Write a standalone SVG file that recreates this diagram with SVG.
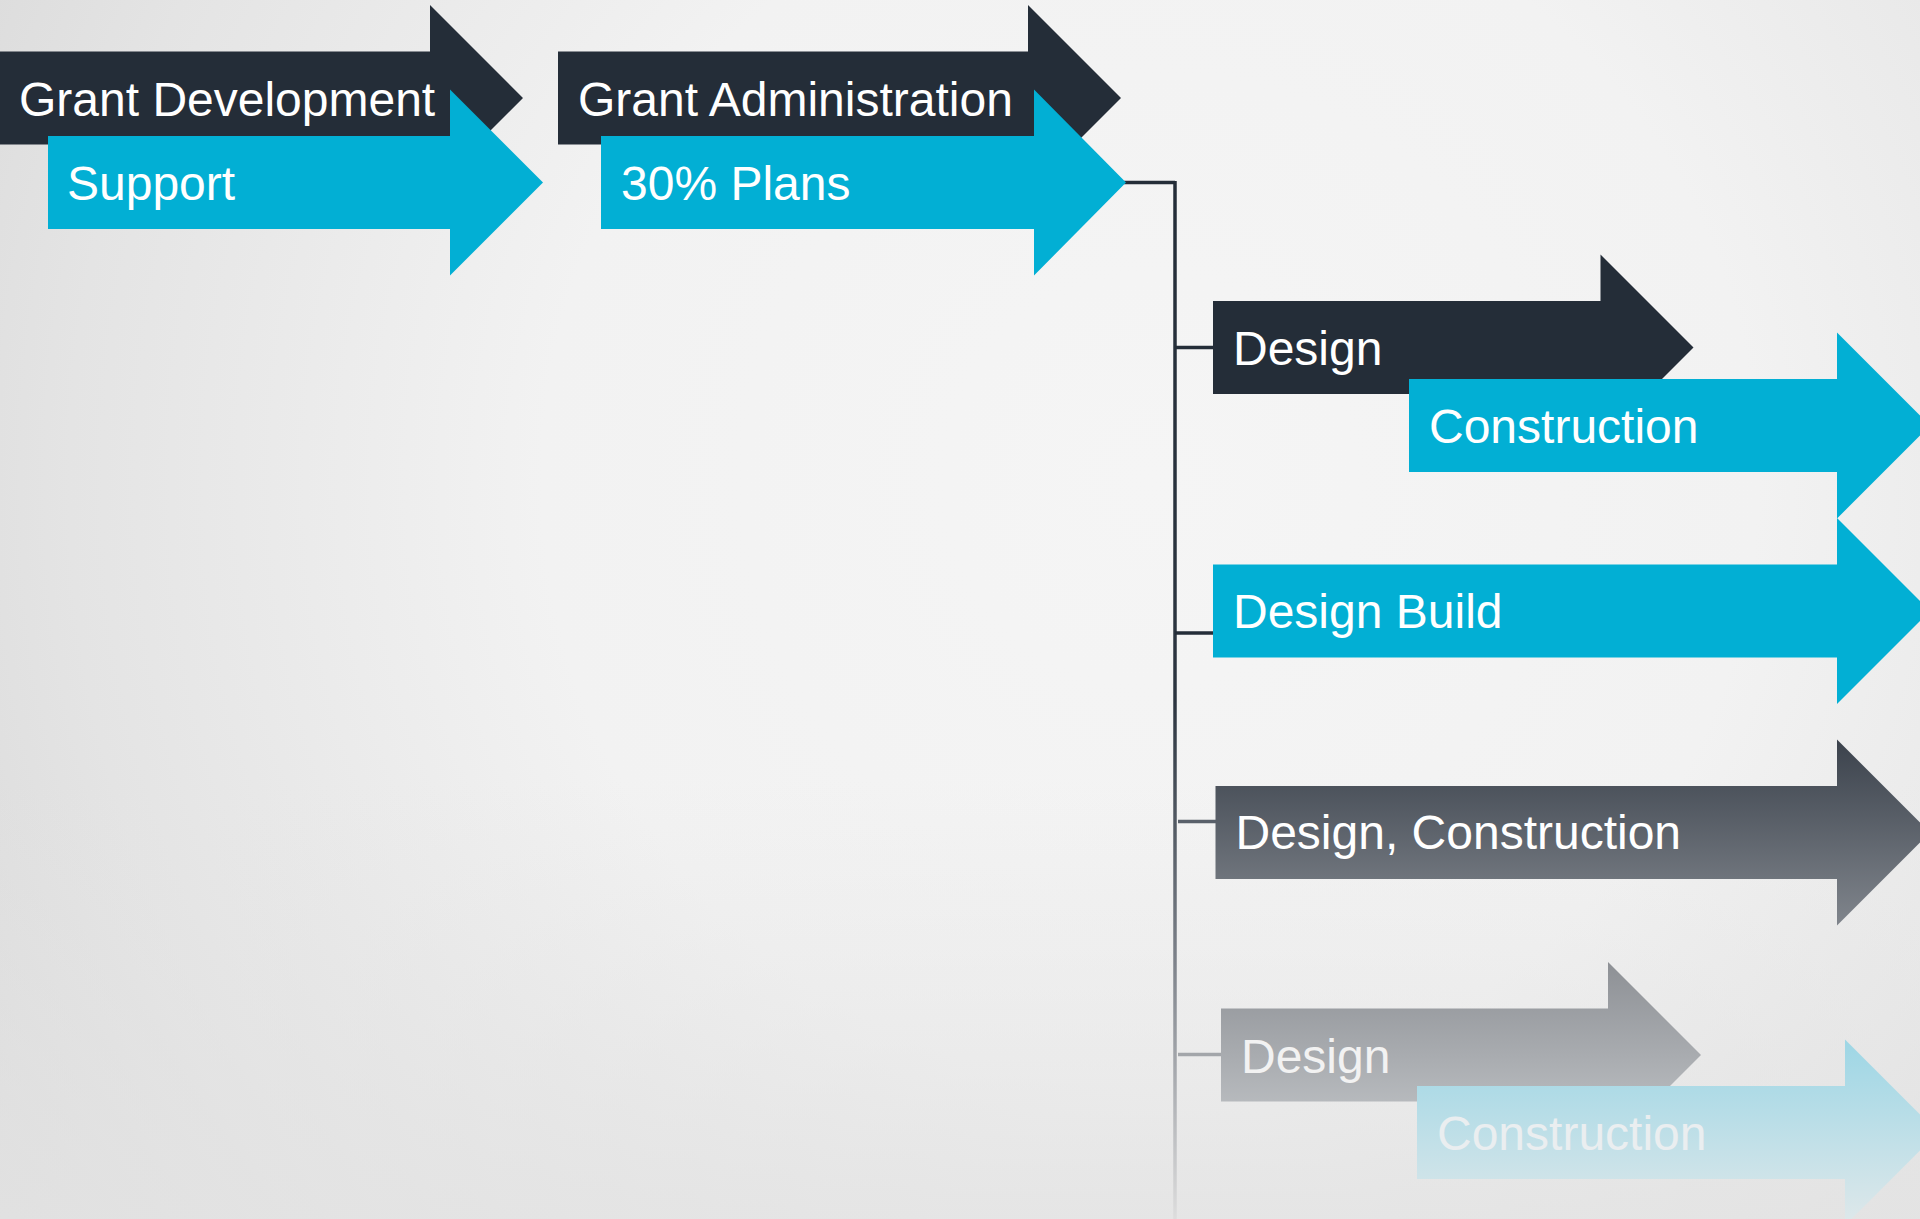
<svg xmlns="http://www.w3.org/2000/svg" width="1920" height="1219" viewBox="0 0 1920 1219">
  <defs>
    <radialGradient id="bg" cx="1150" cy="480" r="1350" gradientUnits="userSpaceOnUse">
      <stop offset="0" stop-color="#f5f5f5"/>
      <stop offset="0.45" stop-color="#f2f2f2"/>
      <stop offset="0.8" stop-color="#e4e4e4"/>
      <stop offset="1" stop-color="#d9d9d9"/>
    </radialGradient>
    <linearGradient id="bgBottom" x1="0" y1="0" x2="0" y2="1">
      <stop offset="0" stop-color="#e6e6e6" stop-opacity="0"/>
      <stop offset="1" stop-color="#e3e3e3" stop-opacity="0.8"/>
    </linearGradient>
    <linearGradient id="gDC" x1="0" y1="0" x2="0" y2="1">
      <stop offset="0" stop-color="#3b424c"/>
      <stop offset="1" stop-color="#80858c"/>
    </linearGradient>
    <linearGradient id="gFadedD" x1="0" y1="0" x2="0" y2="1">
      <stop offset="0" stop-color="#8d9095"/>
      <stop offset="1" stop-color="#c4c7ca"/>
    </linearGradient>
    <linearGradient id="gFadedC" x1="0" y1="0" x2="0" y2="1">
      <stop offset="0" stop-color="#9dd6e5"/>
      <stop offset="1" stop-color="#dfe8ea"/>
    </linearGradient>
    <linearGradient id="gLine" x1="0" y1="182" x2="0" y2="1219" gradientUnits="userSpaceOnUse">
      <stop offset="0" stop-color="#242d38"/>
      <stop offset="0.5" stop-color="#2c3540"/>
      <stop offset="0.75" stop-color="#7d828a"/>
      <stop offset="1" stop-color="#dddddd"/>
    </linearGradient>
  </defs>
  <style>
    .dark { fill: #242d38; }
    .blue { fill: #02afd4; }
    .lbl { font-family: "Liberation Sans", Arial, sans-serif; font-size: 48px; fill: #ffffff; }
    .conn { fill: none; stroke-width: 3.5; }
  </style>

  <rect x="0" y="0" width="1920" height="1219" fill="url(#bg)"/>
  <rect x="0" y="780" width="1920" height="439" fill="url(#bgBottom)"/>

  <g id="connectors">
    <path class="conn" stroke="#242d38" d="M1124 182.5 H1175"/>
    <path class="conn" stroke="url(#gLine)" d="M1175 181 V1219"/>
    <path class="conn" stroke="#242d38" d="M1175 347.5 H1213"/>
    <path class="conn" stroke="#242d38" d="M1175 633 H1213"/>
    <path class="conn" stroke="#59606a" d="M1178 821.5 H1216"/>
    <path class="conn" stroke="#a3a6aa" d="M1178 1054.5 H1221"/>
  </g>

  <g id="node-grant-development">
    <path class="dark" d="M0 51.5 H430 V5 L523 98 L430 191 V144.5 H0 Z"/>
    <text class="lbl" x="19" y="116">Grant Development</text>
  </g>
  <g id="node-support">
    <path class="blue" d="M48 136 H450 V89.5 L543 182.5 L450 275.5 V229 H48 Z"/>
    <text class="lbl" x="67" y="199.5">Support</text>
  </g>

  <g id="node-grant-administration">
    <path class="dark" d="M558 51.5 H1028 V5 L1121 98 L1028 191 V144.5 H558 Z"/>
    <text class="lbl" x="578" y="116">Grant Administration</text>
  </g>
  <g id="node-30-plans">
    <path class="blue" d="M601 136 H1034 V89.5 L1126 182.5 L1034 275.5 V229 H601 Z"/>
    <text class="lbl" x="621" y="199.5">30% Plans</text>
  </g>

  <g id="node-design-1">
    <path class="dark" d="M1213 301 H1600.5 V254.5 L1693.5 347.5 L1600.5 440.5 V394 H1213 Z"/>
    <text class="lbl" x="1233" y="365">Design</text>
  </g>
  <g id="node-construction-1">
    <path class="blue" d="M1409 379 H1837 V332.5 L1930 425.5 L1837 518.5 V472 H1409 Z"/>
    <text class="lbl" x="1429" y="443">Construction</text>
  </g>

  <g id="node-design-build">
    <path class="blue" d="M1213 564.5 H1837 V518 L1930 611 L1837 704 V657.5 H1213 Z"/>
    <text class="lbl" x="1233" y="628">Design Build</text>
  </g>

  <g id="node-design-construction">
    <path fill="url(#gDC)" d="M1215.5 786 H1837 V739.5 L1930 832.5 L1837 925.5 V879 H1215.5 Z"/>
    <text class="lbl" x="1235.5" y="849">Design, Construction</text>
  </g>

  <g id="node-design-2">
    <path fill="url(#gFadedD)" d="M1221 1008.5 H1608 V962 L1701 1055 L1608 1148 V1101.5 H1221 Z"/>
    <text class="lbl" x="1241" y="1072.5" style="fill:#f2f2f2">Design</text>
  </g>
  <g id="node-construction-2">
    <path fill="url(#gFadedC)" d="M1417 1086 H1845 V1039.5 L1938 1132.5 L1845 1225.5 V1179 H1417 Z"/>
    <text class="lbl" x="1437" y="1150" style="fill:#eaeef0">Construction</text>
  </g>
</svg>
